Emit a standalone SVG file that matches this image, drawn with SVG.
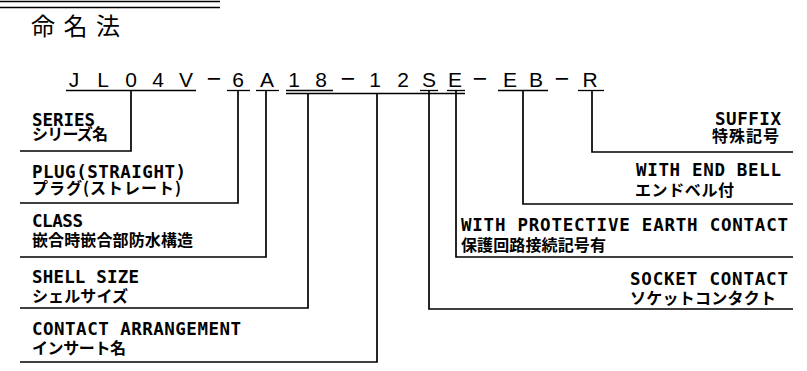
<svg xmlns="http://www.w3.org/2000/svg" width="807" height="371" viewBox="0 0 807 371">
<style>
.bg{fill:#fff}
.rule{stroke:#000;stroke-width:1.6;fill:none}
.ul{stroke:#000;stroke-width:1.3;fill:none}
.con{stroke:#000;stroke-width:1.7;fill:none}
.title{font-family:"Noto Sans CJK JP","Noto Sans CJK SC",sans-serif;font-size:24px;fill:#000}
.code{font-family:"Liberation Sans",Arial,sans-serif;font-size:21px;fill:#000;text-anchor:middle}
.dash{font-size:25px}
.en{font-family:"DejaVu Sans Mono","Liberation Mono",monospace;font-weight:bold;font-size:17.5px;fill:#000}
.jp{font-family:"Noto Sans CJK JP","Noto Sans CJK SC",sans-serif;font-weight:bold;font-size:16px;fill:#000}
</style>
<rect class="bg" x="0" y="0" width="807" height="371"/>

<g id="header">
  <line class="rule" x1="0" y1="1.5" x2="220" y2="1.5"/>
  <line class="rule" x1="0" y1="7.5" x2="220" y2="7.5"/>
  <text class="title" y="35"><tspan x="31">命</tspan><tspan x="63.5">名</tspan><tspan x="96">法</tspan></text>
</g>

<g id="code">
  <text class="code" y="87"><tspan x="74">J</tspan><tspan x="103">L</tspan><tspan x="131">0</tspan><tspan x="158">4</tspan><tspan x="186">V</tspan><tspan x="214" class="dash">−</tspan><tspan x="238">6</tspan><tspan x="267">A</tspan><tspan x="294">1</tspan><tspan x="321">8</tspan><tspan x="348" class="dash">−</tspan><tspan x="375">1</tspan><tspan x="403">2</tspan><tspan x="429">S</tspan><tspan x="455">E</tspan><tspan x="480" class="dash">−</tspan><tspan x="510">E</tspan><tspan x="536">B</tspan><tspan x="562" class="dash">−</tspan><tspan x="590">R</tspan></text>
  <line class="ul" x1="66" y1="90.5" x2="196" y2="90.5"/>
  <line class="ul" x1="227" y1="90.5" x2="250" y2="90.5"/>
  <line class="ul" x1="256" y1="90.5" x2="279" y2="90.5"/>
  <line class="ul" x1="286" y1="90.5" x2="333" y2="90.5"/>
  <line class="ul" x1="286" y1="93.5" x2="465" y2="93.5"/>
  <line class="ul" x1="420" y1="90.5" x2="438" y2="90.5"/>
  <line class="ul" x1="447" y1="90.5" x2="465" y2="90.5"/>
  <line class="ul" x1="498" y1="90.5" x2="548" y2="90.5"/>
  <line class="ul" x1="578" y1="90.5" x2="604" y2="90.5"/>
</g>

<g id="connectors">
  <path class="con" d="M131,90.5 V151 H20"/>
  <path class="con" d="M238,90.5 V203 H20"/>
  <path class="con" d="M266,90.5 V257 H20"/>
  <path class="con" d="M308,93.5 V308 H20"/>
  <path class="con" d="M377,93.5 V362 H20"/>
  <path class="con" d="M429,90.5 V309 H793"/>
  <path class="con" d="M456,90.5 V257 H793"/>
  <path class="con" d="M523,90.5 V204 H793"/>
  <path class="con" d="M592,90.5 V152 H793"/>
</g>

<g id="series">
  <text class="en" x="32" y="126" textLength="63">SERIES</text>
  <text class="jp" x="32" y="139.5" textLength="76">シリーズ名</text>
</g>
<g id="plug">
  <text class="en" x="32" y="178" textLength="154">PLUG(STRAIGHT)</text>
  <text class="jp" x="32" y="194" textLength="149">プラグ(ストレート)</text>
</g>
<g id="class">
  <text class="en" x="32" y="227" textLength="51">CLASS</text>
  <text class="jp" x="32" y="246" textLength="161">嵌合時嵌合部防水構造</text>
</g>
<g id="shell-size">
  <text class="en" x="32" y="283" textLength="107">SHELL SIZE</text>
  <text class="jp" x="32" y="302" textLength="96">シェルサイズ</text>
</g>
<g id="contact-arrangement">
  <text class="en" x="32" y="335" textLength="209">CONTACT ARRANGEMENT</text>
  <text class="jp" x="32" y="354" textLength="94">インサート名</text>
</g>
<g id="suffix">
  <text class="en" x="715" y="125" textLength="66">SUFFIX</text>
  <text class="jp" x="712" y="142" textLength="67">特殊記号</text>
</g>
<g id="end-bell">
  <text class="en" x="636" y="176" textLength="145">WITH END BELL</text>
  <text class="jp" x="635" y="196" textLength="99">エンドベル付</text>
</g>
<g id="protective-earth">
  <text class="en" x="461" y="231" textLength="327">WITH PROTECTIVE EARTH CONTACT</text>
  <text class="jp" x="461" y="251" textLength="145">保護回路接続記号有</text>
</g>
<g id="socket-contact">
  <text class="en" x="630" y="285" textLength="158">SOCKET CONTACT</text>
  <text class="jp" x="630" y="304" textLength="146">ソケットコンタクト</text>
</g>
</svg>
